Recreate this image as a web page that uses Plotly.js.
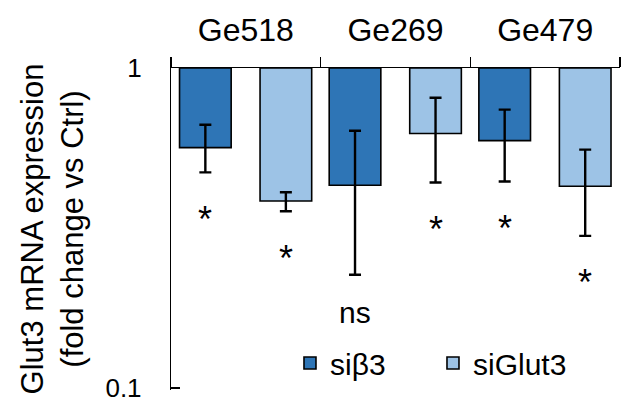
<!DOCTYPE html>
<html>
<head>
<meta charset="utf-8">
<script src="https://cdn.plot.ly/plotly-3.0.1.min.js"></script>
<style>html,body{margin:0;padding:0;background:#fff;}#chart{width:621px;height:404px;}</style>
</head>
<body>
<div id="chart"></div>
<script>
// ---- data ----
const categories = ["Ge518", "Ge269", "Ge479"];
const seriesNames = ["si\u03b23", "siGlut3"];
const siB3Mean = [0.564, 0.430, 0.593];
const siB3High = [0.665, 0.637, 0.741];
const siB3Low = [0.472, 0.226, 0.442];
const siGlut3Mean = [0.384, 0.624, 0.427];
const siGlut3High = [0.409, 0.807, 0.556];
const siGlut3Low = [0.357, 0.439, 0.299];
const siB3Sig = ["*", "ns", "*"];
const siGlut3Sig = ["*", "*", "*"];
const yTickVals = [0.1, 1];
const yTickText = ["0.1", "1"];

// ---- styling ----
const FONT = "Liberation Sans, Arial, sans-serif";
const colors = ["#2E75B6", "#9DC3E6"];
const barWidth = 0.345;
const offsets = [-0.443, 0.095];
const baseline = 1;

function barTrace(name, mean, hi, lo, color, off) {
  return {
    type: "bar",
    name: name,
    x: categories,
    base: mean.map(() => baseline),
    y: mean.map(v => v - baseline),
    width: barWidth,
    offset: off,
    marker: {color: color, line: {color: "#000", width: 1.6}},
    error_y: {
      type: "data", symmetric: false,
      array: hi.map((h, i) => h - mean[i]),
      arrayminus: lo.map((l, i) => mean[i] - l),
      color: "#000", thickness: 2.4, width: 6
    },
    hoverinfo: "skip"
  };
}

const traces = [
  barTrace(seriesNames[0], siB3Mean, siB3High, siB3Low, colors[0], offsets[0]),
  barTrace(seriesNames[1], siGlut3Mean, siGlut3High, siGlut3Low, colors[1], offsets[1])
];

const annotations = [];
[[siB3Sig, siB3Low, 0], [siGlut3Sig, siGlut3Low, 1]].forEach(([sig, low, s]) => {
  sig.forEach((t, i) => {
    annotations.push({
      x: i + offsets[s] + barWidth / 2, xref: "x",
      y: Math.log10(low[i]), yref: "y",
      text: t, showarrow: false,
      yanchor: "middle", yshift: t === "*" ? -47 : -38,
      font: {family: FONT, size: t === "*" ? 36 : 30, color: "#000"}
    });
  });
});

const layout = {
  width: 621, height: 404,
  margin: {l: 171, r: 1, t: 68, b: 14},
  paper_bgcolor: "#fff", plot_bgcolor: "#fff",
  font: {family: FONT, color: "#000"},
  showlegend: true,
  legend: {
    orientation: "h", x: 0.265, y: 0.084, xanchor: "left", yanchor: "middle",
    font: {family: FONT, size: 30, color: "#000"},
    bgcolor: "rgba(0,0,0,0)", entrywidth: 98, entrywidthmode: "pixels",
    itemwidth: 30, tracegroupgap: 0
  },
  xaxis: {
    type: "category", side: "top",
    showline: true, linecolor: "#000", linewidth: 1.2,
    ticks: "outside", tickson: "boundaries", ticklen: 10, tickcolor: "#000", tickwidth: 1.2,
    tickfont: {family: FONT, size: 32, color: "#000"},
    ticklabelstandoff: 13,
    showgrid: false, zeroline: false, fixedrange: true,
    range: [-0.5, 2.5]
  },
  yaxis: {
    type: "log", range: [-1.006, 0],
    tickvals: yTickVals, ticktext: yTickText,
    ticks: "inside", ticklen: 9, tickcolor: "#000", tickwidth: 1.2,
    showline: true, linecolor: "#000", linewidth: 1.2,
    showgrid: false, zeroline: false,
    tickfont: {family: FONT, size: 26, color: "#000"},
    ticklabelstandoff: 23, ticklabeloverflow: "allow",
    title: {text: "Glut3 mRNA expression<br>(fold change vs Ctrl)", font: {family: FONT, size: 31, color: "#000"}, standoff: 12}
  },
  annotations: annotations
};

Plotly.newPlot("chart", traces, layout, {displayModeBar: false, staticPlot: true});
</script>
</body>
</html>
